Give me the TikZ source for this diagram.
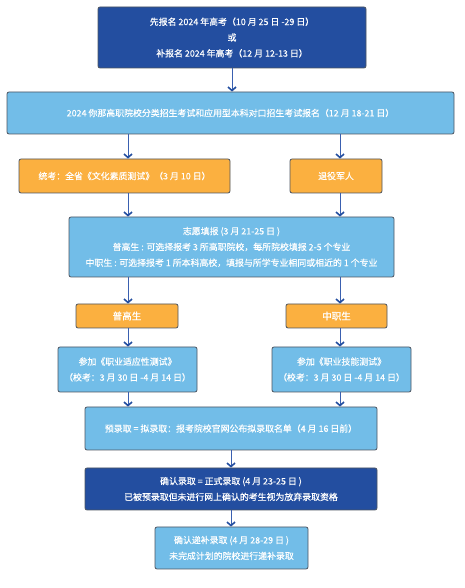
\documentclass[tikz,border=0pt]{standalone}
\usepackage{fontspec}
\setmainfont{Noto Sans CJK SC}[FakeBold=0.4]
\usetikzlibrary{arrows.meta,calc}
\definecolor{darkblue}{HTML}{234EA0}
\definecolor{lightblue}{HTML}{72BDE8}
\definecolor{orangefill}{HTML}{FBB040}
\definecolor{edgegray}{HTML}{4D5560}
\definecolor{arrowblue}{HTML}{3A60B0}
\tikzset{
    box/.style =    {rectangle,
                    rounded corners=2pt,
                    draw=edgegray,
                    text=white,
                    line width=0.8pt,
                    align=center,
                    inner sep=0pt,
                    font=\fontsize{8.9}{15.8}\selectfont},
    darkbox/.style = {box, fill=darkblue},
    lightbox/.style = {box, fill=lightblue},
    orangebox/.style = {box, fill=orangefill},
    tagbox/.style = {orangebox, font=\fontsize{9.6}{12}\selectfont},
    -,
    flow/.style =   {draw=arrowblue,
                    line width=1pt,
                    -{Straight Barb[length=3.5pt,width=8pt,line width=1.6pt,color=darkblue]}},
    x=1pt, y=1pt}

\begin{document}
\begin{tikzpicture}
    \useasboundingbox (0,0) rectangle (464,588);
    % lanes
    \coordinate (laneL) at (128,0);
    \coordinate (laneR) at (340,0);
    \coordinate (laneM) at (231,0);
    % boxes
    \node[darkbox, minimum width=268pt, minimum height=61pt]   (sign)    at (232,550.5)
        {先报名 2024 年高考（10 月 25 日 -29 日）\\ 或\\ 补报名 2024 年高考（12 月 12-13 日）};
    \node[lightbox, minimum width=447pt, minimum height=42pt]  (apply)   at (230.5,475)
        {2024 你那高职院校分类招生考试和应用型本科对口招生考试报名（12 月 18-21 日）};
    \node[orangebox, minimum width=211pt, minimum height=34pt] (exam)    at (124.5,412)
        {统考：全省《文化素质测试》（3 月 10 日）};
    \node[orangebox, minimum width=92pt, minimum height=34pt]  (veteran) at (336,412)
        {退役军人};
    \node[lightbox, minimum width=325pt, minimum height=60pt]  (wish)    at (231.5,341)
        {志愿填报 (3 月 21-25 日 )\\ 普高生 : 可选择报考 3 所高职院校，每所院校填报 2-5 个专业\\ 中职生 : 可选择报考 1 所本科高校，填报与所学专业相同或相近的 1 个专业};
    \node[tagbox, minimum width=102pt, minimum height=24pt]    (general) at (127,272)
        {普高生};
    \node[tagbox, minimum width=101pt, minimum height=24pt]    (voc)     at (336.5,272)
        {中职生};
    \node[lightbox, minimum width=139pt, minimum height=45pt]  (adapt)   at (127.5,218.5)
        {参加《职业适应性测试》\\（校考：3 月 30 日 -4 月 14 日）};
    \node[lightbox, minimum width=139pt, minimum height=45pt]  (skill)   at (341.5,218.5)
        {参加《职业技能测试》\\（校考：3 月 30 日 -4 月 14 日）};
    \node[lightbox, minimum width=292pt, minimum height=43pt]  (pre)     at (231,159.5)
        {预录取 = 拟录取：报考院校官网公布拟录取名单（4 月 16 日前）};
    \node[darkbox, minimum width=292pt, minimum height=42pt]   (confirm) at (231,99)
        {确认录取 = 正式录取 (4 月 23-25 日 )\\ 已被预录取但未进行网上确认的考生视为放弃录取资格};
    \node[lightbox, minimum width=153pt, minimum height=42pt]  (extra)   at (231.5,40)
        {确认递补录取 (4 月 28-29 日 )\\ 未完成计划的院校进行递补录取};
    % connectors
    \draw[flow] (sign.south)  -- (apply.north -| sign.south);
    \draw[flow] (apply.south -| laneL) -- (exam.north -| laneL);
    \draw[flow] (apply.south -| laneR) -- (veteran.north -| laneR);
    \draw[flow] (exam.south -| laneL) -- (wish.north -| laneL);
    \draw[flow] (veteran.south -| laneR) -- (wish.north -| laneR);
    \draw[flow] (wish.south -| laneL) -- (general.north -| laneL);
    \draw[flow] (wish.south -| laneR) -- (voc.north -| laneR);
    \draw[flow] (general.south -| laneL) -- (adapt.north -| laneL);
    \draw[flow] (voc.south -| laneR) -- (skill.north -| laneR);
    \draw[flow] (adapt.south -| laneL) -- (pre.north -| laneL);
    \draw[flow] (skill.south -| laneR) -- (pre.north -| laneR);
    \draw[flow] (pre.south -| laneM) -- (confirm.north -| laneM);
    \draw[flow] (confirm.south -| laneM) -- (extra.north -| laneM);
\end{tikzpicture}
\end{document}
